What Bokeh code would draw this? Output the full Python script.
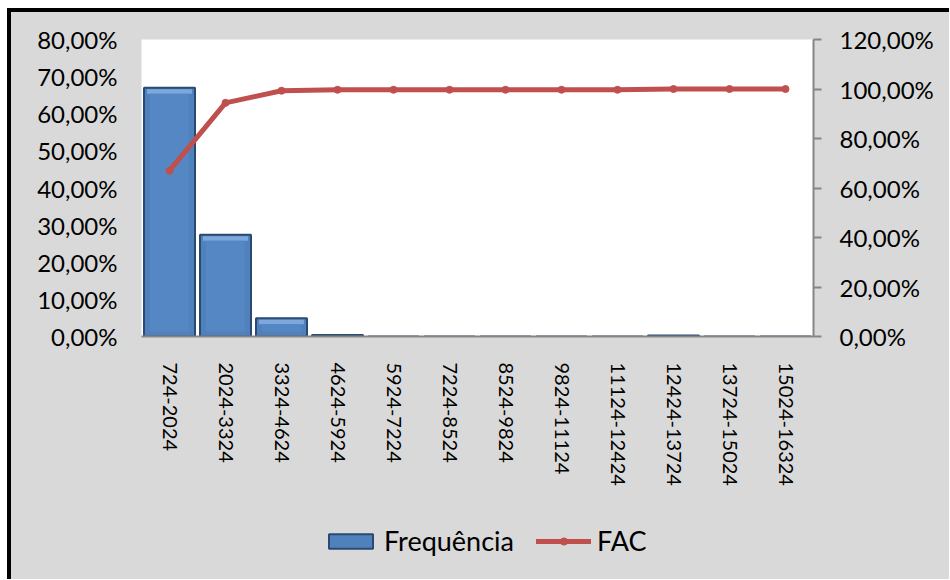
from bokeh.plotting import figure
from bokeh.layouts import column
from bokeh.models import (ColumnDataSource, FactorRange, Range1d, LinearAxis, FixedTicker,
                          CustomJSTickFormatter, Legend, LegendItem)
from bokeh.embed import file_html
from bokeh.resources import INLINE

categories = ["724-2024", "2024-3324", "3324-4624", "4624-5924", "5924-7224", "7224-8524",
              "8524-9824", "9824-11124", "11124-12424", "12424-13724", "13724-15024", "15024-16324"]
frequencia = [67.0, 27.4, 4.9, 0.4, 0.0, 0.0, 0.0, 0.0, 0.0, 0.3, 0.0, 0.0]
fac = [67.0, 94.4, 99.3, 99.7, 99.7, 99.7, 99.7, 99.7, 99.7, 100.0, 100.0, 100.0]
left_ticks = [0, 10, 20, 30, 40, 50, 60, 70, 80]
right_ticks = [0, 20, 40, 60, 80, 100, 120]

FONT = "Lato"
BG = "#d9d9d9"
BLUE = "#4f81bd"
BLUE_DARK = "#2a4a72"
RED = "#c0504d"

p = figure(x_range=FactorRange(*categories, range_padding=0), y_range=Range1d(0, 80),
           width=938, height=498, output_backend="svg", toolbar_location=None,
           min_border_left=130, min_border_right=136, min_border_top=27, min_border_bottom=174)
p.border_fill_color = BG
p.background_fill_color = "white"
p.outline_line_color = None
p.xgrid.visible = False
p.ygrid.visible = False
p.extra_y_ranges = {"fac": Range1d(0, 120)}

fmt = CustomJSTickFormatter(code="return tick.toFixed(2).replace('.', ',') + '%';")

# left axis
p.yaxis.ticker = FixedTicker(ticks=left_ticks)
p.yaxis.formatter = fmt
p.yaxis.axis_line_color = None
p.yaxis.major_tick_line_color = None
p.yaxis.minor_tick_line_color = None
p.yaxis.major_tick_out = 0
p.yaxis.major_tick_in = 0
p.yaxis.major_label_standoff = 24
p.yaxis.major_label_text_font = FONT
p.yaxis.major_label_text_font_size = "24px"
p.yaxis.major_label_text_color = "black"

# bottom axis
p.xaxis.axis_line_color = "#868686"
p.xaxis.axis_line_width = 2
p.xaxis.major_tick_line_color = None
p.xaxis.major_tick_out = 0
p.xaxis.major_label_orientation = "vertical"
p.xaxis.major_label_standoff = 26
p.xaxis.major_label_text_font = FONT
p.xaxis.major_label_text_font_size = "20px"
p.xaxis.major_label_text_color = "black"

# right axis
ry = LinearAxis(y_range_name="fac", ticker=FixedTicker(ticks=right_ticks), formatter=fmt)
ry.axis_line_color = "#868686"
ry.axis_line_width = 2
ry.major_tick_line_color = "#868686"
ry.major_tick_line_width = 2
ry.major_tick_out = 8
ry.major_tick_in = 0
ry.minor_tick_line_color = None
ry.major_label_standoff = 18
ry.major_label_text_font = FONT
ry.major_label_text_font_size = "24px"
ry.major_label_text_color = "black"
p.add_layout(ry, "right")

# bars with bevel look
px_x = 1 / 56.0
px_y = 80 / 296.0
BW = 0.91
src = ColumnDataSource(dict(cat=categories, freq=frequencia, fac=fac))
p.vbar(x="cat", top="freq", bottom=0, width=BW, source=src,
       fill_color=BLUE, line_color=BLUE_DARK, line_width=2)
big = [(c, f) for c, f in zip(categories, frequencia) if f > 3]
bev = ColumnDataSource(dict(
    cat=[c for c, f in big],
    top=[f - 1.5 * px_y for c, f in big],
    bot=[f - 6 * px_y for c, f in big],
))
p.vbar(x="cat", top="top", bottom="bot", width=BW - 6 * px_x, source=bev,
       fill_color="#7ea8dc", line_color=None)
face = ColumnDataSource(dict(
    cat=[c for c, f in big],
    top=[f - 6 * px_y for c, f in big],
    bot=[5 * px_y for c, f in big],
))
p.vbar(x="cat", top="top", bottom="bot", width=BW - 12 * px_x, source=face,
       fill_color="#5587c4", line_color=None)

p.line(x="cat", y="fac", source=src, y_range_name="fac",
       line_color=RED, line_width=5, line_cap="round", line_join="round")
p.scatter(x="cat", y="fac", source=src, y_range_name="fac", marker="circle",
          size=7, fill_color=RED, line_color=RED)

# legend panel below the chart (hidden renderers only supply the legend glyphs)
lg = figure(x_range=FactorRange(*categories, range_padding=0), y_range=Range1d(1000, 1001),
            width=938, height=69, output_backend="svg", toolbar_location=None,
            x_axis_type=None, y_axis_type=None,
            min_border_left=0, min_border_right=0, min_border_top=0, min_border_bottom=0)
lg.border_fill_color = BG
lg.background_fill_alpha = 0
lg.outline_line_color = None
lg.xgrid.visible = False
lg.ygrid.visible = False
lsrc = ColumnDataSource(dict(cat=categories, freq=frequencia, fac=fac))
lbars = lg.vbar(x="cat", top="freq", bottom=0, width=BW, source=lsrc,
                fill_color=BLUE, line_color=BLUE_DARK, line_width=2, visible=False)
lline = lg.line(x="cat", y="fac", source=lsrc, line_color=RED, line_width=5,
                line_cap="round", visible=False)
ldots = lg.scatter(x="cat", y="fac", source=lsrc, marker="circle", size=7,
                   fill_color=RED, line_color=RED, visible=False)

legend = Legend(items=[LegendItem(label="Frequência", renderers=[lbars]),
                       LegendItem(label="FAC", renderers=[lline, ldots])],
                orientation="horizontal", location=(182, 22))
legend.background_fill_alpha = 0
legend.border_line_color = None
legend.inactive_fill_alpha = 0
legend.padding = 0
legend.margin = 0
legend.spacing = 22
legend.glyph_width = 55
legend.glyph_height = 18
legend.label_standoff = 6
legend.label_text_font = FONT
legend.label_text_font_size = "27px"
legend.label_text_color = "black"
lg.add_layout(legend, "center")

layout = column(p, lg, spacing=0)
layout.styles = {"border-left": "4px solid black", "border-top": "4px solid black",
                 "margin-left": "7px", "margin-top": "8px", "background-color": BG}

open("out.html", "w").write(file_html(layout, INLINE))
